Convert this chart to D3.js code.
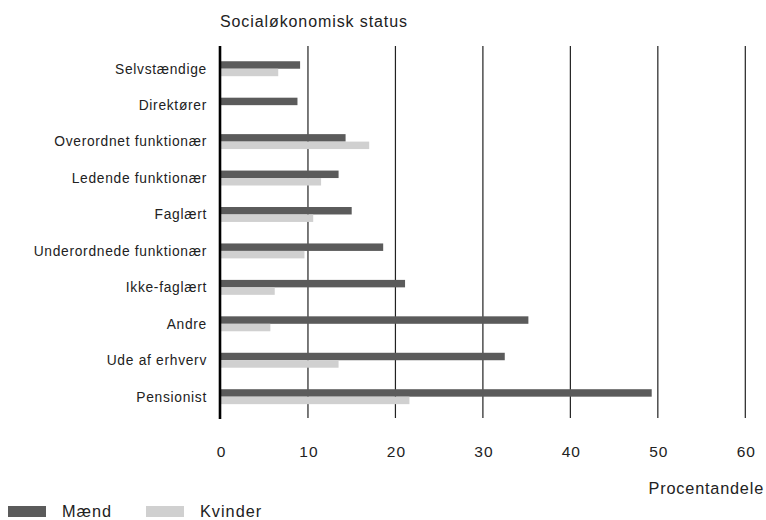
<!DOCTYPE html>
<html><head><meta charset="utf-8">
<script src="https://cdn.jsdelivr.net/npm/d3@7"></script>
<style>body{margin:0;background:#fff}svg{display:block}text{font-family:"Liberation Sans",Arial,sans-serif;fill:#222}</style>
</head><body><svg id="c" width="766" height="520"></svg>
<script>
const categories = ["Selvstændige","Direktører","Overordnet funktionær","Ledende funktionær","Faglært","Underordnede funktionær","Ikke-faglært","Andre","Ude af erhverv","Pensionist"];
const maend = [9.1, 8.8, 14.3, 13.5, 15.0, 18.6, 21.1, 35.2, 32.5, 49.3];
const kvinder = [6.6, 0, 17.0, 11.5, 10.6, 9.6, 6.2, 5.7, 13.5, 21.6];
const ticks = [0,10,20,30,40,50,60];
const seriesNames = ["Mænd","Kvinder"];
const colors = ["#5b5b5b","#d0d0d0"];

const svg = d3.select("#c");
const x = d3.scaleLinear().domain([0,60]).range([220.5,745.3]);
const y = d3.scaleBand().domain(categories).range([50.5,414.9]).paddingInner(0.59).paddingOuter(0.295);
const sub = d3.scaleBand().domain(seriesNames).range([0,y.bandwidth()]);

// gridlines
svg.append("g").selectAll("line").data(ticks.slice(1)).join("line")
  .attr("x1",d=>x(d)).attr("x2",d=>x(d)).attr("y1",46).attr("y2",418)
  .attr("stroke","#222").attr("stroke-width",1.2);

// bars
const data = [maend,kvinder];
data.forEach((vals,si)=>{
  svg.append("g").selectAll("rect").data(categories.map((c,i)=>({c,v:vals[i]}))).join("rect")
    .attr("x",x(0)+0.5).attr("y",d=>y(d.c)+sub(seriesNames[si]))
    .attr("width",d=>Math.max(0,x(d.v)-x(0)-0.5)).attr("height",sub.bandwidth())
    .attr("fill",colors[si]);
});

// axis line
svg.append("line").attr("x1",x(0)-0.5).attr("x2",x(0)-0.5).attr("y1",46).attr("y2",419)
  .attr("stroke","#000").attr("stroke-width",2.6);

// category labels
svg.append("g").selectAll("text").data(categories).join("text")
  .attr("x",207).attr("y",d=>y(d)+y.bandwidth()/2).attr("dy","0.35em")
  .attr("text-anchor","end").attr("font-size",13.8).attr("letter-spacing",0.7).text(d=>d);

// tick labels
const xAxis = d3.axisBottom(x).tickValues(ticks).tickSize(0).tickPadding(0);
const ag = svg.append("g").attr("transform","translate(0,446)").call(xAxis);
ag.select(".domain").remove();
ag.selectAll("text").attr("font-size",15.5).attr("letter-spacing",1).attr("dx",0.5)
  .attr("font-family","Liberation Sans, Arial, sans-serif").attr("fill","#222").attr("dy","0.71em");

// titles
svg.append("text").attr("x",220).attr("y",27).attr("font-size",16).attr("letter-spacing",0.9).text("Socialøkonomisk status");
svg.append("text").attr("x",764).attr("y",494).attr("text-anchor","end").attr("font-size",16.3).attr("letter-spacing",0.8).text("Procentandele");

// legend
const lg = svg.append("g");
const lx = [8,146];
seriesNames.forEach((n,i)=>{
  lg.append("rect").attr("x",lx[i]).attr("y",506).attr("width",38).attr("height",11).attr("fill",colors[i]);
  lg.append("text").attr("x",lx[i]+54).attr("y",516.5).attr("font-size",16.3).attr("letter-spacing",1).text(n);
});
</script></body></html>
